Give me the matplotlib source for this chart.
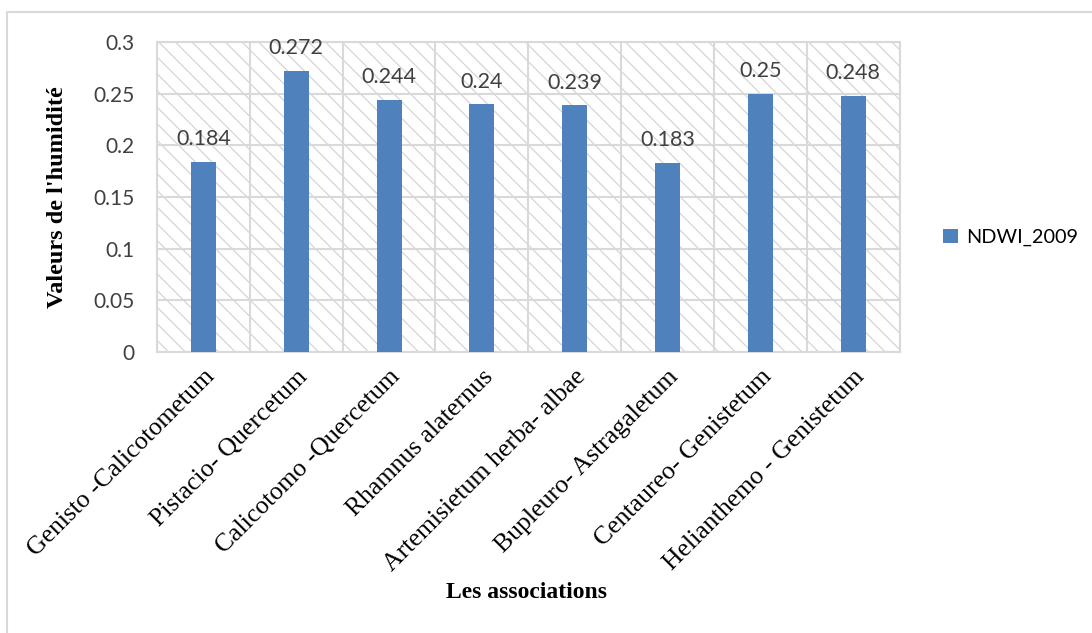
import numpy as np
import matplotlib.pyplot as plt
from matplotlib.patches import Rectangle

associations = ['Genisto -Calicotometum', 'Pistacio- Quercetum', 'Calicotomo -Quercetum',
                'Rhamnus alaternus', 'Artemisietum herba- albae', 'Bupleuro- Astragaletum',
                'Centaureo- Genistetum', 'Helianthemo - Genistetum']
ndwi_2009 = [0.184, 0.272, 0.244, 0.24, 0.239, 0.183, 0.25, 0.248]
yticks = [0, 0.05, 0.1, 0.15, 0.2, 0.25, 0.3]
ytick_labels = ['0', '0.05', '0.1', '0.15', '0.2', '0.25', '0.3']

plt.rcParams['hatch.color'] = '#d6d6d6'
plt.rcParams['hatch.linewidth'] = 0.9

fig = plt.figure(figsize=(10.92, 6.33), dpi=100)
ax = fig.add_axes([0.1438, 0.4439, 0.680, 0.4897])

# outer chart border
fig.patches.append(Rectangle((7 / 1092, -0.1), 1.2, 1 - 12 / 633 + 0.1, transform=fig.transFigure,
                             fill=False, edgecolor='#d9d9d9', linewidth=1.5))

# hatched plot area
ax.add_patch(Rectangle((0, 0), 1, 1, transform=ax.transAxes, facecolor='white',
                       hatch='\\\\', edgecolor='#d6d6d6', linewidth=0, zorder=0))

x = np.arange(len(associations))
bars = ax.bar(x, ndwi_2009, width=0.27, color='#4f81bd', zorder=3, label='NDWI_2009')

for xi, v in zip(x, ndwi_2009):
    ax.annotate(f'{v:g}', (xi, v), xytext=(0, 9), textcoords='offset points',
                ha='center', va='bottom', fontsize=15.5, color='#404040', family='Lato')

ax.set_xlim(-0.5, len(associations) - 0.5)
ax.set_ylim(0, 0.3)
ax.set_yticks(yticks)
ax.set_yticklabels(ytick_labels, fontsize=15, color='#404040', family='Lato')
ax.set_xticks(x)
ax.set_xticklabels(associations, rotation=45, ha='right', rotation_mode='anchor',
                   fontsize=18.5, family='Liberation Serif')
ax.set_xticks(np.arange(-0.5, len(associations)), minor=True)
ax.tick_params(axis='both', which='both', length=0)
ax.tick_params(axis='y', pad=16)
ax.tick_params(axis='x', pad=10)

ax.grid(axis='y', which='major', color='#d9d9d9', linewidth=1.5, zorder=1)
ax.grid(axis='x', which='minor', color='#d9d9d9', linewidth=1.5, zorder=1)
ax.grid(axis='x', which='major', visible=False)
for s in ax.spines.values():
    s.set_color('#d9d9d9')
    s.set_linewidth(1.5)

ax.set_ylabel("Valeurs de l'humidité", fontsize=17.5, fontweight='bold', family='Liberation Serif')
ax.yaxis.set_label_coords(-0.12, 0.5)
fig.text(527 / 1092, 1 - 593 / 633, 'Les associations', fontsize=17, fontweight='bold',
         family='Liberation Serif', ha='center', va='center')

ax.legend(loc='center left', bbox_to_anchor=(1.035, 0.37), frameon=False,
          prop={'family': 'Lato', 'size': 14.3}, handlelength=0.75, handleheight=0.75, handletextpad=0.4)

fig.savefig('out.png', dpi=100)
